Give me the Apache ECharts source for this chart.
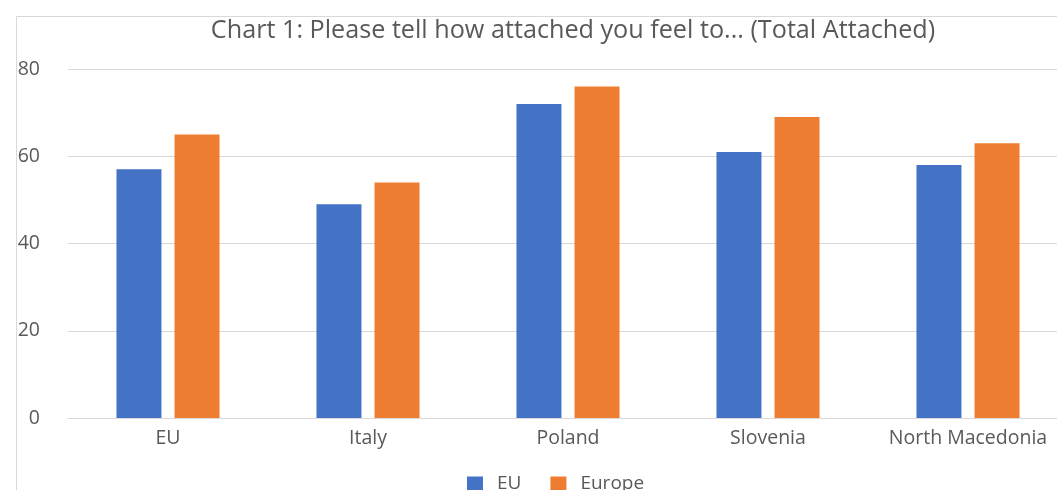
<!DOCTYPE html>
<html><head><meta charset="utf-8">
<script src="https://cdn.jsdelivr.net/npm/echarts@6/dist/echarts.min.js"></script>
<style>html,body{margin:0;padding:0;background:#fff;overflow:hidden}#c{width:1057px;height:490px}</style>
</head><body><div id="c"></div>
<script>
const categories = ["EU", "Italy", "Poland", "Slovenia", "North Macedonia"];
const euValues = [57, 49, 72, 61, 58];
const europeValues = [65, 54, 76, 69, 63];
const yTicks = [0, 20, 40, 60, 80];
const chart = echarts.init(document.getElementById('c'), null, {renderer: 'canvas'});
const font = '"Open Sans", "Noto Sans", sans-serif';
chart.setOption({
  animation: false,
  backgroundColor: '#fff',
  title: {
    text: 'Chart 1: Please tell how attached you feel to... (Total Attached)',
    left: 568, top: 13, textAlign: 'center',
    textStyle: {fontFamily: font, fontSize: 25.2, fontWeight: 'normal', color: '#595959'}
  },
  graphic: [
    {type: 'line', shape: {x1: 16.5, y1: 16.5, x2: 1057, y2: 16.5}, style: {stroke: '#d9d9d9', lineWidth: 1}, silent: true},
    {type: 'line', shape: {x1: 16.5, y1: 16.5, x2: 16.5, y2: 490}, style: {stroke: '#d9d9d9', lineWidth: 1}, silent: true}
  ],
  legend: {
    data: ['EU', 'Europe'], left: 462, top: 469, itemWidth: 16, itemHeight: 14, itemGap: 29,
    icon: 'rect', textStyle: {fontFamily: font, fontSize: 19, color: '#595959', padding: [0, 0, 0, 9]}
  },
  grid: {left: 68, width: 1000, top: 69, height: 349, containLabel: false, outerBoundsMode: 'none'},
  xAxis: {
    type: 'category', data: categories,
    axisLine: {lineStyle: {color: '#d9d9d9', width: 1}}, axisTick: {show: false},
    splitLine: {show: false},
    axisLabel: {fontFamily: font, fontSize: 19.5, color: '#595959', margin: 10, interval: 0}
  },
  yAxis: {
    type: 'value', min: yTicks[0], max: yTicks[yTicks.length - 1], interval: 20,
    axisLine: {show: false}, axisTick: {show: false},
    splitLine: {lineStyle: {color: '#d9d9d9', width: 1}},
    axisLabel: {fontFamily: font, fontSize: 19.5, color: '#595959', margin: 28}
  },
  series: [
    {name: 'EU', type: 'bar', data: euValues, barWidth: 45, barGap: '29%', itemStyle: {color: '#4472c4'}},
    {name: 'Europe', type: 'bar', data: europeValues, barWidth: 45, itemStyle: {color: '#ed7d31'}}
  ]
});
</script></body></html>
